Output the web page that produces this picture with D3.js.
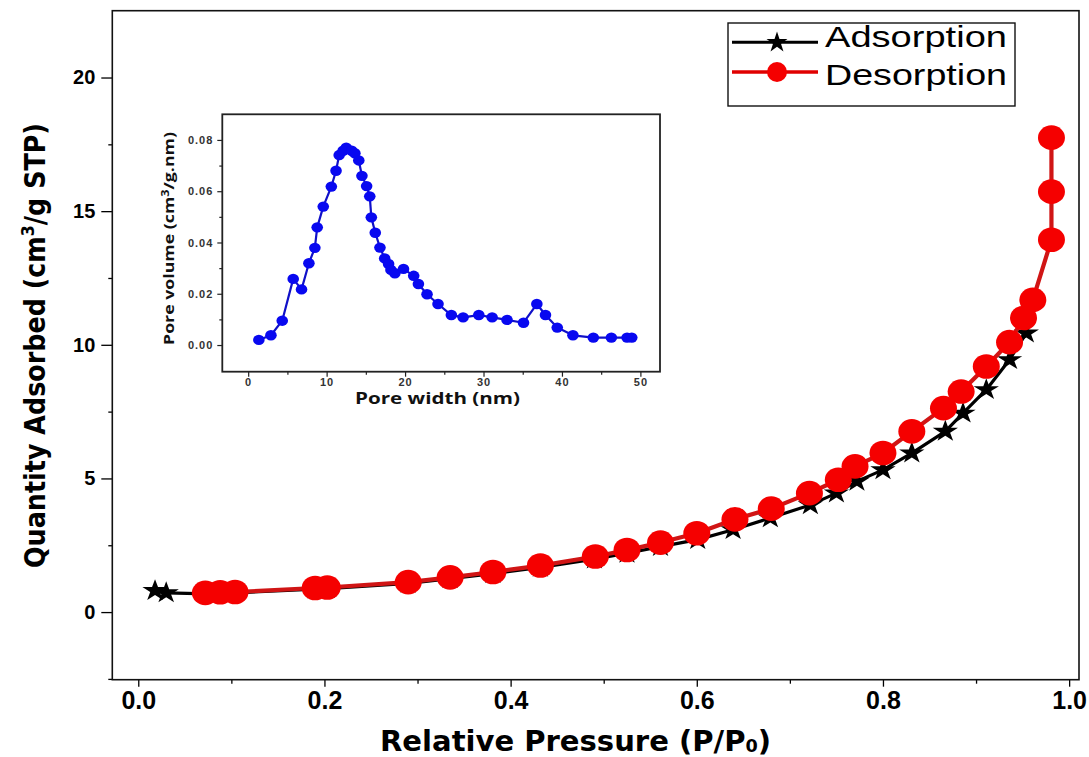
<!DOCTYPE html>
<html>
<head>
<meta charset="utf-8">
<script src="https://cdn.jsdelivr.net/npm/d3@7"></script>
<style>
  html, body { margin: 0; padding: 0; background: #fff; }
  svg { display: block; }
</style>
</head>
<body>
<svg id="chart" width="1089" height="757"></svg>
<script>
// ---------- Data ----------
const adsX = [0.018, 0.030, 0.075, 0.100, 0.190, 0.203, 0.290, 0.335, 0.381, 0.432, 0.490, 0.525, 0.561, 0.601, 0.639, 0.679, 0.722, 0.750, 0.772, 0.800, 0.831, 0.867, 0.886, 0.911, 0.936, 0.954];
const adsY = [0.80, 0.72, 0.68, 0.71, 0.86, 0.88, 1.07, 1.25, 1.44, 1.67, 1.98, 2.20, 2.45, 2.71, 3.08, 3.52, 4.01, 4.45, 4.89, 5.32, 5.95, 6.76, 7.44, 8.32, 9.44, 10.44];

const desX = [0.072, 0.088, 0.104, 0.190, 0.203, 0.290, 0.335, 0.381, 0.432, 0.491, 0.525, 0.561, 0.600, 0.641, 0.680, 0.721, 0.752, 0.770, 0.800, 0.831, 0.865, 0.884, 0.911, 0.936, 0.951, 0.961, 0.981, 0.981, 0.981];
const desY = [0.72, 0.74, 0.75, 0.90, 0.92, 1.12, 1.30, 1.50, 1.74, 2.08, 2.32, 2.60, 2.95, 3.47, 3.87, 4.45, 4.95, 5.45, 5.95, 6.76, 7.63, 8.25, 9.19, 10.10, 11.00, 11.68, 13.93, 15.73, 17.75];

const poreW = [1.36, 2.9, 4.34, 5.74, 6.8, 7.74, 8.5, 8.8, 9.57, 10.6, 11.2, 11.6, 12.1, 12.5, 13.2, 13.6, 14.1, 14.5, 15.1, 15.5, 15.7, 16.2, 16.8, 17.4, 17.9, 18.2, 18.7, 19.8, 21.1, 21.7, 22.8, 24.2, 25.9, 27.4, 29.4, 31.1, 33.0, 35.1, 36.8, 37.9, 39.4, 41.4, 44.0, 46.3, 48.3, 48.9];
const poreV = [0.0020, 0.0038, 0.0095, 0.0258, 0.0217, 0.0319, 0.0379, 0.0459, 0.0540, 0.0618, 0.0680, 0.0741, 0.0758, 0.0770, 0.0758, 0.0748, 0.0720, 0.0660, 0.0620, 0.0580, 0.0498, 0.0438, 0.0380, 0.0338, 0.0316, 0.0293, 0.0280, 0.0297, 0.0270, 0.0238, 0.0198, 0.0160, 0.0117, 0.0108, 0.0117, 0.0108, 0.0098, 0.0087, 0.0160, 0.0117, 0.0068, 0.0038, 0.0029, 0.0029, 0.0029, 0.0029];

const xTicks = [0, 0.2, 0.4, 0.6, 0.8, 1.0];
const xMinorTicks = [0.1, 0.3, 0.5, 0.7, 0.9];
const yTicks = [0, 5, 10, 15, 20];
const yMinorTicks = [-2.5, 2.5, 7.5, 12.5, 17.5];
const inXTicks = [0, 10, 20, 30, 40, 50];
const inXMinorTicks = [5, 15, 25, 35, 45];
const inYTicks = [0, 0.02, 0.04, 0.06, 0.08];
const inYMinorTicks = [0.01, 0.03, 0.05, 0.07];
const seriesNames = ["Adsorption", "Desorption"];

// ---------- Layout ----------
const svg = d3.select("#chart");
const M = { left: 112.3, right: 1079, top: 10.7, bottom: 679.7 };
const x = d3.scaleLinear().domain([-0.0279, 1.0106]).range([M.left, M.right]);
const y = d3.scaleLinear().domain([-2.53, 22.5]).range([M.bottom, M.top]);

const I = { left: 222.3, right: 660, top: 114.3, bottom: 371.7 };
const xi = d3.scaleLinear().domain([-3.3, 52.5]).range([I.left, I.right]);
const yi = d3.scaleLinear().domain([-0.0104, 0.09]).range([I.bottom, I.top]);

const boldSans = "'Liberation Sans', Arial, 'DejaVu Sans', sans-serif";
const narrow = "'Liberation Sans Narrow', 'DejaVu Sans Condensed', 'Liberation Sans', Arial, sans-serif";

// ---------- Main axes ----------
function styleAxis(g) {
  g.select(".domain").remove();
  g.selectAll(".tick line").attr("stroke", "#000").attr("stroke-width", 1.3);
}
const gx = svg.append("g").attr("transform", `translate(0,${M.bottom})`)
  .call(d3.axisBottom(x).tickValues(xTicks).tickSize(7).tickPadding(5).tickFormat(d3.format(".1f")));
styleAxis(gx);
gx.selectAll("text").attr("font-family", boldSans).attr("font-weight", "bold")
  .attr("font-size", 25).attr("fill", "#000");
const gxm = svg.append("g").attr("transform", `translate(0,${M.bottom})`)
  .call(d3.axisBottom(x).tickValues(xMinorTicks).tickSize(4).tickFormat(""));
styleAxis(gxm);

const gy = svg.append("g").attr("transform", `translate(${M.left},0)`)
  .call(d3.axisLeft(y).tickValues(yTicks).tickSize(11).tickPadding(6).tickFormat(d3.format("d")));
styleAxis(gy);
gy.selectAll("text").attr("font-family", boldSans).attr("font-weight", "bold")
  .attr("font-size", 20).attr("fill", "#000");
const gym = svg.append("g").attr("transform", `translate(${M.left},0)`)
  .call(d3.axisLeft(y).tickValues(yMinorTicks).tickSize(4).tickFormat(""));
styleAxis(gym);

// frame
svg.append("rect").attr("x", M.left).attr("y", M.top)
  .attr("width", M.right - M.left).attr("height", M.bottom - M.top)
  .attr("fill", "none").attr("stroke", "#111").attr("stroke-width", 1.6);

// axis titles
const xt = svg.append("text")
  .attr("x", (380 + 771) / 2).attr("y", 751)
  .attr("text-anchor", "middle")
  .attr("font-family", narrow).attr("font-weight", "bold").attr("font-size", 28)
  .attr("textLength", 391).attr("lengthAdjust", "spacingAndGlyphs")
  .attr("fill", "#000");
xt.append("tspan").text("Relative Pressure (P/P");
xt.append("tspan").attr("font-size", 17).attr("dy", 1).text("0");
xt.append("tspan").attr("dy", -1).text(")");

const yt = svg.append("text")
  .attr("transform", "translate(45,345.5) rotate(-90)")
  .attr("text-anchor", "middle")
  .attr("font-family", narrow).attr("font-weight", "bold").attr("font-size", 29)
  .attr("textLength", 445).attr("lengthAdjust", "spacingAndGlyphs")
  .attr("fill", "#000");
yt.append("tspan").text("Quantity Adsorbed (cm");
yt.append("tspan").attr("font-size", 18).attr("dy", -11).text("3");
yt.append("tspan").attr("dy", 11).text("/g STP)");

// ---------- Series ----------
const ads = adsX.map((v, i) => [v, adsY[i]]);
const des = desX.map((v, i) => [v, desY[i]]);
const line = d3.line().x(d => x(d[0])).y(d => y(d[1]));

const starSym = d3.symbol().type(d3.symbolStar);

svg.append("path").datum(ads).attr("d", line)
  .attr("fill", "none").attr("stroke", "#000").attr("stroke-width", 3.2)
  .attr("stroke-linejoin", "round");
svg.append("g").selectAll("path").data(ads).join("path")
  .attr("d", starSym.size(150)())
  .attr("transform", d => `translate(${x(d[0])},${y(d[1])}) scale(1.15,1)`)
  .attr("fill", "#000");

svg.append("path").datum(des).attr("d", line)
  .attr("fill", "none").attr("stroke", "#d01515").attr("stroke-width", 4.2)
  .attr("stroke-linejoin", "round");
svg.append("g").selectAll("ellipse").data(des).join("ellipse")
  .attr("cx", d => x(d[0])).attr("cy", d => y(d[1]))
  .attr("rx", 13.5).attr("ry", 12.3)
  .attr("fill", "#f50000");

// ---------- Legend ----------
const lg = svg.append("g");
lg.append("rect").attr("x", 728).attr("y", 23).attr("width", 287).attr("height", 83)
  .attr("fill", "#fff").attr("stroke", "#111").attr("stroke-width", 1.4);
lg.append("line").attr("x1", 732).attr("x2", 818).attr("y1", 42.3).attr("y2", 42.3)
  .attr("stroke", "#000").attr("stroke-width", 3);
lg.append("path").attr("d", d3.symbol().type(d3.symbolStar).size(136)())
  .attr("transform", "translate(777,42.5)").attr("fill", "#000");
lg.append("line").attr("x1", 732).attr("x2", 818).attr("y1", 72).attr("y2", 72)
  .attr("stroke", "#e00000").attr("stroke-width", 3.5);
lg.append("circle").attr("cx", 777).attr("cy", 72).attr("r", 10).attr("fill", "#f50000");
lg.selectAll("text.lab").data(seriesNames).join("text")
  .attr("class", "lab")
  .attr("x", 825).attr("y", (d, i) => i === 0 ? 47 : 85)
  .attr("font-family", "'Liberation Sans', Arial, sans-serif").attr("font-size", 30)
  .attr("textLength", 182).attr("lengthAdjust", "spacingAndGlyphs")
  .attr("fill", "#000").text(d => d);

// ---------- Inset ----------
const ig = svg.append("g");
ig.append("rect").attr("x", I.left).attr("y", I.top)
  .attr("width", I.right - I.left).attr("height", I.bottom - I.top)
  .attr("fill", "#fff").attr("stroke", "#222").attr("stroke-width", 1.8);

function styleInAxis(g) {
  g.select(".domain").remove();
  g.selectAll(".tick line").attr("stroke", "#222").attr("stroke-width", 1.2);
  g.selectAll("text").attr("font-family", boldSans).attr("font-weight", "bold")
    .attr("font-size", 11).attr("fill", "#333").attr("letter-spacing", 1);
}
const igx = ig.append("g").attr("transform", `translate(0,${I.bottom})`)
  .call(d3.axisBottom(xi).tickValues(inXTicks).tickSize(5).tickPadding(2).tickFormat(d3.format("d")));
styleInAxis(igx);
const igxm = ig.append("g").attr("transform", `translate(0,${I.bottom})`)
  .call(d3.axisBottom(xi).tickValues(inXMinorTicks).tickSize(3).tickFormat(""));
styleInAxis(igxm);
const igy = ig.append("g").attr("transform", `translate(${I.left},0)`)
  .call(d3.axisLeft(yi).tickValues(inYTicks).tickSize(5).tickPadding(4).tickFormat(d3.format(".2f")));
styleInAxis(igy);
const igym = ig.append("g").attr("transform", `translate(${I.left},0)`)
  .call(d3.axisLeft(yi).tickValues(inYMinorTicks).tickSize(3).tickFormat(""));
styleInAxis(igym);

const pore = poreW.map((v, i) => [v, poreV[i]]);
ig.append("path").datum(pore)
  .attr("d", d3.line().x(d => xi(d[0])).y(d => yi(d[1])))
  .attr("fill", "none").attr("stroke", "#1010c8").attr("stroke-width", 2.2)
  .attr("stroke-linejoin", "round");
ig.append("g").selectAll("ellipse").data(pore).join("ellipse")
  .attr("cx", d => xi(d[0])).attr("cy", d => yi(d[1]))
  .attr("rx", 5.8).attr("ry", 5.2).attr("fill", "#0808f0");

const ixt = ig.append("text")
  .attr("x", 437.5).attr("y", 404)
  .attr("text-anchor", "middle")
  .attr("font-family", "'Open Sans', 'DejaVu Sans', sans-serif").attr("font-weight", "bold")
  .attr("font-size", 15.5).attr("textLength", 165).attr("lengthAdjust", "spacingAndGlyphs")
  .attr("fill", "#111").text("Pore width (nm)");

const iyt = ig.append("text")
  .attr("transform", "translate(174,238.5) rotate(-90)")
  .attr("text-anchor", "middle")
  .attr("font-family", "'Open Sans', 'DejaVu Sans', sans-serif").attr("font-weight", "bold")
  .attr("font-size", 14).attr("textLength", 213).attr("lengthAdjust", "spacingAndGlyphs")
  .attr("fill", "#111");
iyt.append("tspan").text("Pore volume (cm");
iyt.append("tspan").attr("font-size", 10).attr("dy", -5).text("3");
iyt.append("tspan").attr("dy", 5).text("/g.nm)");
</script>
</body>
</html>
